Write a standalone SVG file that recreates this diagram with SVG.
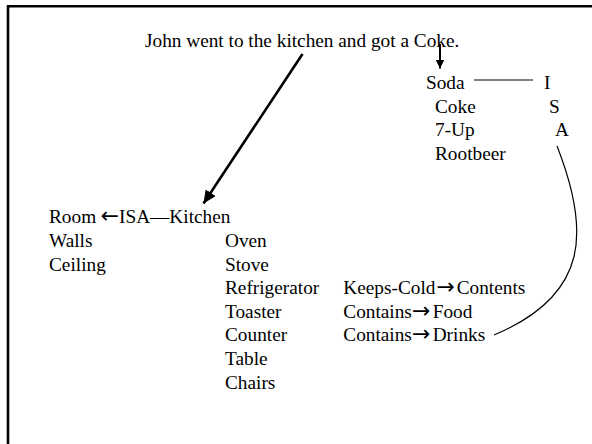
<svg xmlns="http://www.w3.org/2000/svg" width="592" height="444" viewBox="0 0 592 444">
<style>
  text { font-family: "Liberation Serif", "Times New Roman", serif; font-size: 19.3px; fill: #000; }
  .arr { font-family: "DejaVu Sans", sans-serif; font-size: 22px; }
  .conn { fill: none; stroke: #000; }
</style>
<defs>
  <marker id="headBig" markerUnits="userSpaceOnUse" markerWidth="14" markerHeight="12" refX="13" refY="6" orient="auto">
    <path d="M0,0 L13,6 L0,12 Z" fill="#000"/>
  </marker>
  <marker id="headSmall" markerUnits="userSpaceOnUse" markerWidth="10" markerHeight="10" refX="9" refY="5" orient="auto">
    <path d="M0,0.5 L9,5 L0,9.5 Z" fill="#000"/>
  </marker>
</defs>
<rect width="592" height="444" fill="#fff"/>
<path d="M8,444 V6.2 H592" fill="none" stroke="#000" stroke-width="2.6"/>

<g id="sentence">
  <text x="145" y="47">John went to the kitchen and got a Coke.</text>
</g>

<g id="soda">
  <text x="426" y="89">Soda</text>
  <text x="435" y="112.5">Coke</text>
  <text x="435" y="136">7-Up</text>
  <text x="435" y="159.5">Rootbeer</text>
</g>

<g id="isa-label">
  <text x="544" y="89">I</text>
  <text x="549" y="112.5">S</text>
  <text x="555" y="136">A</text>
</g>

<g id="room">
  <text y="223.3"><tspan x="49">Room</tspan><tspan class="arr" x="100.5">←</tspan><tspan x="119">ISA—Kitchen</tspan></text>
  <text x="49" y="247">Walls</text>
  <text x="49" y="270.6">Ceiling</text>
</g>

<g id="kitchen">
  <text x="225" y="247">Oven</text>
  <text x="225" y="270.6">Stove</text>
  <text x="225" y="294.2">Refrigerator</text>
  <text x="225" y="317.8">Toaster</text>
  <text x="225" y="341.4">Counter</text>
  <text x="225" y="365">Table</text>
  <text x="225" y="388.6">Chairs</text>
</g>

<g id="contents">
  <text y="294.2"><tspan x="343.3">Keeps-Cold</tspan><tspan class="arr" x="436.5">→</tspan><tspan x="456.7">Contents</tspan></text>
  <text y="317.8"><tspan x="343.3">Contains</tspan><tspan class="arr" x="412">→</tspan><tspan x="432.7">Food</tspan></text>
  <text y="341.4"><tspan x="343.3">Contains</tspan><tspan class="arr" x="412">→</tspan><tspan x="432.7">Drinks</tspan></text>
</g>

<g id="connectors">
  <line class="conn" x1="302.5" y1="54" x2="203.5" y2="203.5" stroke-width="2.6" marker-end="url(#headBig)"/>
  <line class="conn" x1="440" y1="44" x2="440" y2="68.5" stroke-width="2" marker-end="url(#headSmall)"/>
  <line class="conn" x1="474" y1="80" x2="533" y2="80" stroke-width="1.2"/>
  <path class="conn" d="M557,146 C590,230 590,295 494,335" stroke-width="1.2"/>
</g>
</svg>
